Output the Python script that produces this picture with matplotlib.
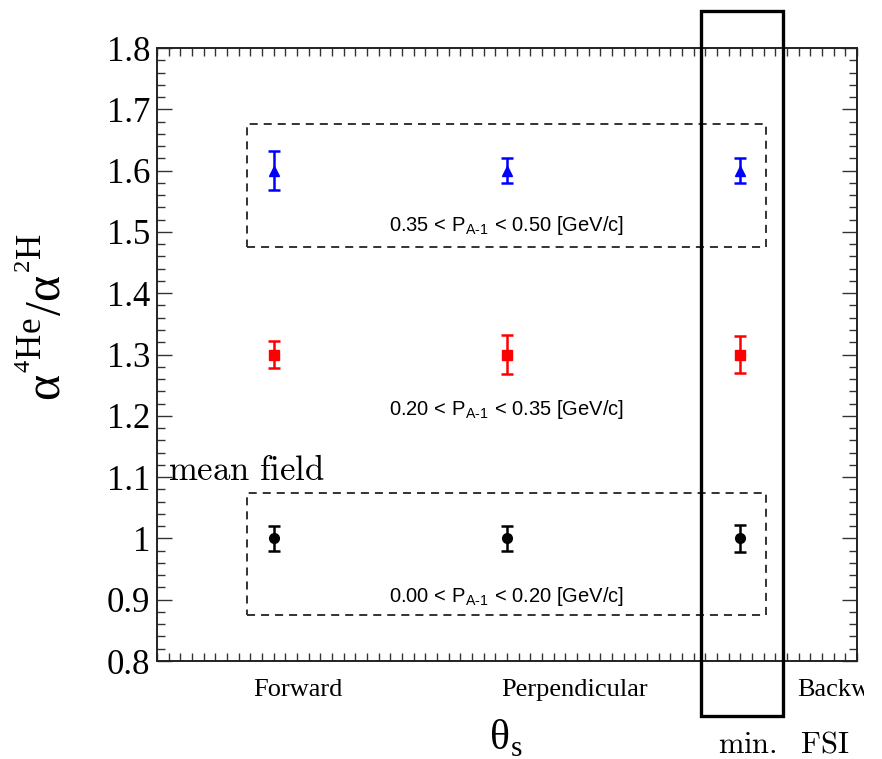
import matplotlib
matplotlib.use("Agg")
import matplotlib.pyplot as plt
from matplotlib.ticker import MultipleLocator, FixedLocator, FixedFormatter
from matplotlib.patches import Rectangle
from matplotlib.transforms import Bbox

plt.rcParams['mathtext.fontset'] = 'cm'
plt.rcParams['lines.scale_dashes'] = False

# ---- data ----
x_pos = [0.5, 1.5, 2.5]
x_labels = ["Forward", "Perpendicular", "Backward"]
high_vals = [1.60, 1.60, 1.60]
high_errs = [0.032, 0.021, 0.020]
mid_vals = [1.30, 1.30, 1.30]
mid_errs = [0.022, 0.032, 0.030]
low_vals = [1.00, 1.00, 1.00]
low_errs = [0.020, 0.020, 0.022]
y_ticks = [0.8, 0.9, 1.0, 1.1, 1.2, 1.3, 1.4, 1.5, 1.6, 1.7, 1.8]
y_ticklabels = ["0.8", "0.9", "1", "1.1", "1.2", "1.3", "1.4", "1.5", "1.6", "1.7", "1.8"]
range_labels = ["0.35 < P$_{\\mathregular{A\u20101}}$ < 0.50 [GeV/c]",
                "0.20 < P$_{\\mathregular{A\u20101}}$ < 0.35 [GeV/c]",
                "0.00 < P$_{\\mathregular{A\u20101}}$ < 0.20 [GeV/c]"]
range_label_y = [1.51, 1.21, 0.906]

fig = plt.figure(figsize=(8.82, 7.59), dpi=100)
ax = fig.add_axes([157/882, 1-661/759, 700/882, 613/759])
ax.set_xlim(0, 3)
ax.set_ylim(0.8, 1.8)

ax.errorbar(x_pos, high_vals, yerr=high_errs, fmt='^', color='blue', ms=7,
            elinewidth=1.8, capsize=4, capthick=1.8)
ax.errorbar(x_pos, mid_vals, yerr=mid_errs, fmt='s', color='red', ms=7,
            elinewidth=1.8, capsize=4, capthick=1.8)
ax.errorbar(x_pos, low_vals, yerr=low_errs, fmt='o', color='black', ms=7,
            elinewidth=1.8, capsize=4, capthick=1.8)

# dashed boxes
for (y0, y1) in [(1.476, 1.676), (0.875, 1.074)]:
    ax.add_patch(Rectangle((0.386, y0), 2.61 - 0.386, y1 - y0, fill=False,
                           ec='#333333', lw=1.4, ls=(0, (5.8, 4.3))))

# min FSI box
ax.add_patch(Rectangle((2.332, 0.71), 2.683 - 2.332, 1.86 - 0.71, fill=False,
                       ec='black', lw=2.4, clip_on=False, zorder=5))

for lab, yy in zip(range_labels, range_label_y):
    ax.text(1.5, yy, lab, ha='center', va='center', fontsize=14.5,
            family='Liberation Sans')

ax.text(0.045, 1.112, r'$\mathrm{mean\ field}$', fontsize=25, ha='left',
        va='center', transform=ax.transData)

# axis ticks
ax.xaxis.set_major_locator(FixedLocator([]))
ax.xaxis.set_minor_locator(MultipleLocator(0.05))
ax.yaxis.set_major_locator(FixedLocator(y_ticks))
ax.yaxis.set_major_formatter(FixedFormatter(y_ticklabels))
ax.yaxis.set_minor_locator(MultipleLocator(0.02))
ax.tick_params(which='both', direction='in', top=True, right=True, width=1.0,
               color='#333333')
ax.tick_params(axis='y', which='major', length=11, labelsize=25, pad=5)
ax.tick_params(axis='y', which='minor', length=6)
ax.tick_params(axis='x', which='minor', length=6)
for lbl in ax.get_yticklabels():
    lbl.set_family('Liberation Serif')
for s in ax.spines.values():
    s.set_linewidth(1.4)
    s.set_color('#222222')

label_x = [0.604, 1.79, 2.743]
label_ha = ['center', 'center', 'left']
clip = Bbox.from_extents(0, 0, 864, 759)
for lab, lx, ha in zip(x_labels, label_x, label_ha):
    t = ax.text(lx, 0.77, lab, ha=ha, va='top', fontsize=19,
                family='Liberation Serif', transform=ax.transData)
    t.set_clip_box(clip)
    t.set_clip_on(True)

fig.text(506/882, 1-738/759, 'θ$_{\\mathregular{s}}$', fontsize=30,
         ha='center', va='center', family='Liberation Serif')
fig.text(784/882, 1-744/759, r'$\mathrm{min.\ \ FSI}$', fontsize=22,
         ha='center', va='center')
fig.text(46/882, 1-317/759, 'α$^{\\mathregular{^{4}He}}$/α$^{\\mathregular{^{2}H}}$',
         fontsize=36, rotation=90, ha='center', va='center',
         family='Liberation Serif')

fig.savefig('out.png', dpi=100)
